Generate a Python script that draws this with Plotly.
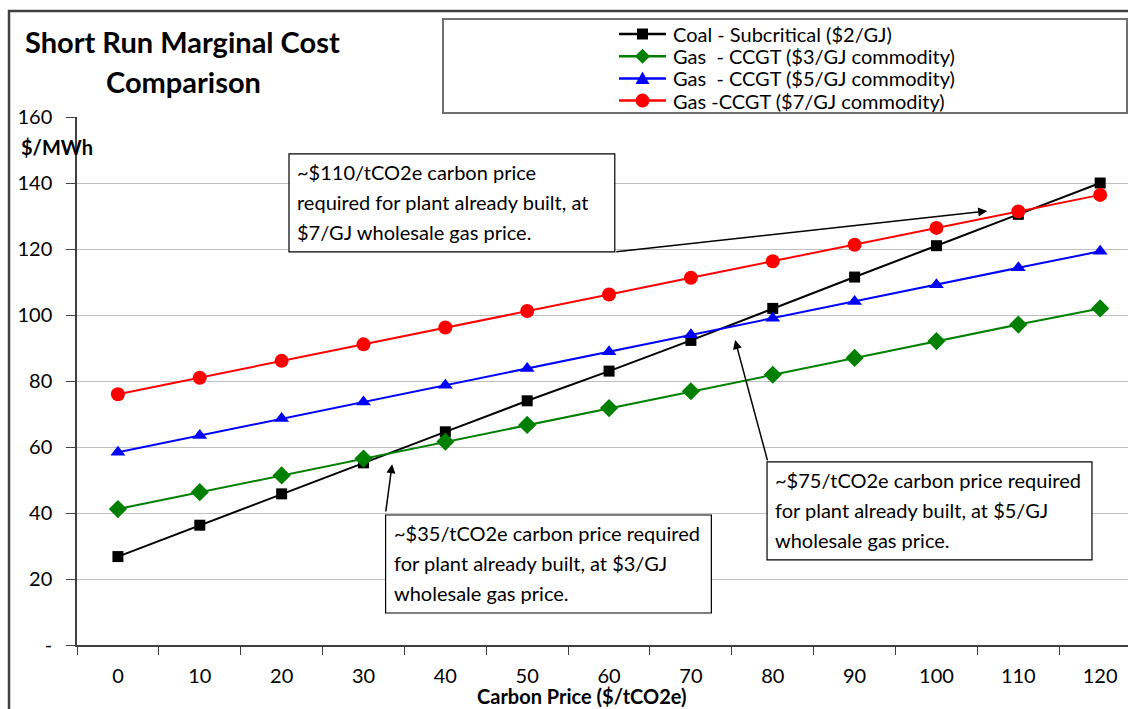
import plotly.graph_objects as go

# Carbon price steps ($/tCO2e)
carbon_price = [0, 10, 20, 30, 40, 50, 60, 70, 80, 90, 100, 110, 120]

# Short run marginal cost ($/MWh) per technology
coal_subcritical = [26.8, 36.3, 45.8, 55.2, 64.6, 74.0, 83.0, 92.3, 102.0, 111.5, 121.0, 130.5, 140.0]
gas_ccgt_3 = [41.2, 46.3, 51.4, 56.5, 61.6, 66.7, 71.8, 76.9, 81.9, 87.0, 92.1, 97.1, 102.0]
gas_ccgt_5 = [58.4, 63.5, 68.6, 73.6, 78.7, 83.8, 88.9, 94.0, 99.0, 104.1, 109.2, 114.3, 119.3]
gas_ccgt_7 = [76.0, 81.0, 86.1, 91.1, 96.2, 101.2, 106.2, 111.3, 116.3, 121.3, 126.4, 131.4, 136.4]

series_names = [
    "Coal - Subcritical ($2/GJ)",
    "Gas  - CCGT ($3/GJ commodity)",
    "Gas  - CCGT ($5/GJ commodity)",
    "Gas -CCGT ($7/GJ commodity)",
]

y_tick_vals = [0, 20, 40, 60, 80, 100, 120, 140, 160]
y_tick_text = ["-", "20", "40", "60", "80", "100", "120", "140", "160"]

FONT = "Lato"
AXIS_GREY = "#404040"

# Plot-area geometry in pixels, used to place paper-referenced decorations
PLOT_L, PLOT_R, PLOT_T, PLOT_B = 77, 1128, 117, 645


def px_x(px):
    return (px - PLOT_L) / (PLOT_R - PLOT_L)


def px_y(py):
    return (PLOT_B - py) / (PLOT_B - PLOT_T)


fig = go.Figure()

styles = [
    (coal_subcritical, "black", "square", 11),
    (gas_ccgt_3, "#008000", "diamond", 14),
    (gas_ccgt_5, "#0000FF", "triangle-up", 13),
    (gas_ccgt_7, "#FF0000", "circle", 14),
]
for name, (vals, color, symbol, size) in zip(series_names, styles):
    fig.add_trace(go.Scatter(
        x=carbon_price, y=vals, name=name, mode="lines+markers", showlegend=False,
        line=dict(color=color, width=2),
        marker=dict(symbol=symbol, size=size, color=color),
    ))

# Callout boxes: (left, right, top, bottom) in data units, plus text lines
callouts = [
    ((20.9, 60.7, 148.8, 119.1),
     ["~$110/tCO2e carbon price", "required for plant already built, at", "$7/GJ wholesale gas price."]),
    ((32.7, 72.5, 39.4, 9.7),
     ["~$35/tCO2e carbon price required", "for plant already built, at $3/GJ", "wholesale gas price."]),
    ((79.3, 119.0, 55.5, 25.8),
     ["~$75/tCO2e carbon price required", "for plant already built, at $5/GJ", "wholesale gas price."]),
]

shapes = []
annotations = []
for (x0, x1, y1, y0), lines in callouts:
    shapes.append(dict(type="rect", xref="x", yref="y", x0=x0, x1=x1, y0=y0, y1=y1,
                       line=dict(color="black", width=1.2), fillcolor="white", layer="above"))
    for i, txt in enumerate(lines):
        annotations.append(dict(x=x0, y=y1, xref="x", yref="y", text=txt, showarrow=False,
                                xanchor="left", yanchor="middle", xshift=6, yshift=-18 - 30 * i,
                                font=dict(family=FONT, size=20, color="black")))

# Arrows from callouts to crossover points: (tail_x, tail_y, head_x, head_y)
arrows = [
    (60.7, 119.1, 106.2, 131.5),
    (32.7, 40.0, 33.5, 54.8),
    (79.4, 55.5, 75.4, 92.4),
]
for tx, ty, hx, hy in arrows:
    annotations.append(dict(x=hx, y=hy, ax=tx, ay=ty, xref="x", yref="y", axref="x", ayref="y",
                            text="", showarrow=True, arrowhead=2, arrowsize=1.2, arrowwidth=1.5,
                            arrowcolor="black", standoff=0, startstandoff=0))

# Title and axis titles
annotations += [
    dict(x=px_x(182), y=px_y(42), xref="paper", yref="paper", text="<b>Short Run Marginal Cost</b>",
         showarrow=False, xanchor="center", yanchor="middle",
         font=dict(family=FONT, size=29, color="black")),
    dict(x=px_x(183), y=px_y(82), xref="paper", yref="paper", text="<b>Comparison</b>",
         showarrow=False, xanchor="center", yanchor="middle",
         font=dict(family=FONT, size=29, color="black")),
    dict(x=px_x(57), y=px_y(147), xref="paper", yref="paper", text="<b>$/MWh</b>",
         showarrow=False, xanchor="center", yanchor="middle",
         font=dict(family=FONT, size=20, color="black")),
    dict(x=px_x(582), y=px_y(696), xref="paper", yref="paper", text="<b>Carbon Price ($/tCO2e)</b>",
         showarrow=False, xanchor="center", yanchor="middle",
         font=dict(family=FONT, size=20, color="black")),
]

# Legend, drawn as a framed key: line sample, marker glyph and label per series
marker_paths = {
    "square": "M-5.5,-5.5 L5.5,-5.5 L5.5,5.5 L-5.5,5.5 Z",
    "diamond": "M0,-7.5 L7.5,0 L0,7.5 L-7.5,0 Z",
    "triangle-up": "M-7,-5.5 L7,-5.5 L0,7 Z",
    "circle": None,
}
shapes.append(dict(type="rect", xref="paper", yref="paper",
                   x0=px_x(443), x1=px_x(1127), y0=px_y(113), y1=px_y(19),
                   line=dict(color="#707070", width=2), fillcolor="rgba(0,0,0,0)", layer="below"))
for i, (name, (_, color, symbol, _s)) in enumerate(zip(series_names, styles)):
    row_y = px_y(34 + 22.2 * i)
    shapes.append(dict(type="line", xref="paper", yref="paper",
                       x0=px_x(619), x1=px_x(666), y0=row_y, y1=row_y,
                       line=dict(color=color, width=2.5)))
    cx = px_x(642.5)
    if symbol == "circle":
        shapes.append(dict(type="circle", xref="paper", yref="paper",
                           xsizemode="pixel", ysizemode="pixel", xanchor=cx, yanchor=row_y,
                           x0=-7, x1=7, y0=-7, y1=7,
                           line=dict(color=color, width=0), fillcolor=color))
    else:
        shapes.append(dict(type="path", xref="paper", yref="paper",
                           xsizemode="pixel", ysizemode="pixel", xanchor=cx, yanchor=row_y,
                           path=marker_paths[symbol],
                           line=dict(color=color, width=0), fillcolor=color))
    annotations.append(dict(x=px_x(671), y=row_y, xref="paper", yref="paper",
                            text=name.replace("  ", "&nbsp; "), showarrow=False,
                            xanchor="left", yanchor="middle",
                            font=dict(family=FONT, size=20, color="black")))

# Outer chart frame
shapes.append(dict(type="rect", xref="paper", yref="paper",
                   x0=px_x(9), x1=1.2, y0=-0.5, y1=px_y(11),
                   line=dict(color=AXIS_GREY, width=2.5), fillcolor="rgba(0,0,0,0)", layer="above"))

fig.update_layout(
    width=1128, height=709,
    margin=dict(l=PLOT_L, r=1128 - PLOT_R, t=PLOT_T, b=709 - PLOT_B),
    paper_bgcolor="white", plot_bgcolor="white",
    font=dict(family=FONT, size=20, color="black"),
    showlegend=False,
    xaxis=dict(
        range=[-5, 123.4], tickmode="array", tickvals=carbon_price,
        ticktext=[str(v) for v in carbon_price],
        ticks="outside", ticklen=0, ticklabelstandoff=12,
        showline=True, linecolor=AXIS_GREY, linewidth=1.5,
        showgrid=False, zeroline=False,
        minor=dict(tick0=-5, dtick=10, ticks="outside", ticklen=8,
                   tickcolor=AXIS_GREY, tickwidth=1.2, showgrid=False),
        tickfont=dict(family=FONT, size=20, color="black"),
    ),
    yaxis=dict(
        range=[0, 160], tickmode="array", tickvals=y_tick_vals, ticktext=y_tick_text,
        ticks="outside", ticklen=9, tickcolor=AXIS_GREY, tickwidth=1.2,
        ticklabelstandoff=10,
        showline=True, linecolor=AXIS_GREY, linewidth=1.5,
        showgrid=True, gridcolor="#c0c0c0", gridwidth=1, zeroline=False,
        tickfont=dict(family=FONT, size=20, color="black"),
    ),
    shapes=shapes,
    annotations=annotations,
)

fig.write_html("out.html")
